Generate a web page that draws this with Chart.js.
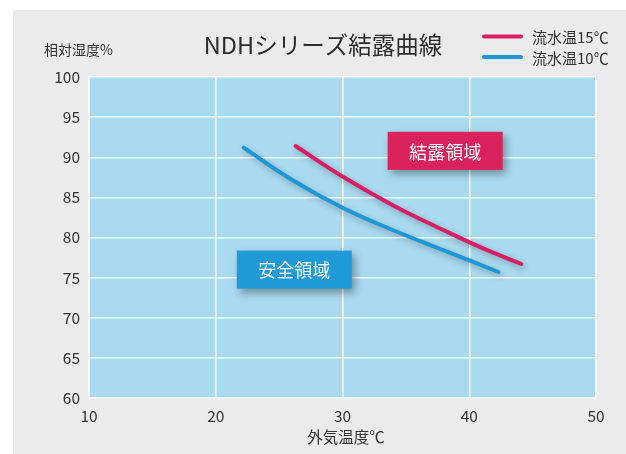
<!DOCTYPE html>
<html>
<head>
<meta charset="utf-8">
<script src="https://cdn.jsdelivr.net/npm/chart.js@4/dist/chart.umd.min.js"></script>
<style>
  body { margin: 0; background: #ffffff; }
  #card { position: absolute; left: 13px; top: 10px; width: 613px; height: 444px; background: #ebebed; }
</style>
</head>
<body>
<div id="card"><canvas id="chart" width="613" height="444"></canvas></div>
<script>
// 結露曲線 data (outside temp ℃ -> relative humidity %)
const water15X = [26.3, 30, 34, 38, 41, 44.1];
const water15Y = [91.4, 87.6, 84.0, 80.9, 78.7, 76.7];
const water10X = [22.2, 26, 30, 34, 38, 42.3];
const water10Y = [91.2, 87.2, 83.7, 80.9, 78.4, 75.7];

const seriesNames = ['流水温15℃', '流水温10℃'];
const seriesColors = ['#d81f63', '#1f97d6'];

const xTicks = [10, 20, 30, 40, 50];
const yTicks = [60, 65, 70, 75, 80, 85, 90, 95, 100];

// zone labels placed in data units
const zoneNames = ['結露領域', '安全領域'];
const zoneX = [38.1, 26.2];
const zoneY = [90.8, 76.0];
const zoneColors = ['#d9225a', '#1f9ad6'];

const FONT = '"Noto Sans CJK JP", "Noto Sans", sans-serif';
const TEXT = '#333333';

const toPoints = (xs, ys) => xs.map((x, i) => ({ x: x, y: ys[i] }));

// plot background + shadows + texts
const decor = {
    id: 'decor',
    beforeDraw(chart) {
        const { ctx, chartArea: a } = chart;
        ctx.save();
        ctx.fillStyle = '#a9daf0';
        ctx.fillRect(a.left, a.top, a.right - a.left, a.bottom - a.top);
        ctx.restore();
    },
    beforeDatasetDraw(chart) {
        const ctx = chart.ctx;
        ctx.save();
        ctx.shadowColor = 'rgba(0,0,0,0.28)';
        ctx.shadowBlur = 6;
        ctx.shadowOffsetX = 2;
        ctx.shadowOffsetY = 3;
    },
    afterDatasetDraw(chart) {
        chart.ctx.restore();
    },
    afterDraw(chart) {
        const ctx = chart.ctx;
        const xs = chart.scales.x, ys = chart.scales.y;
        ctx.save();

        // zone boxes
        zoneNames.forEach((name, i) => {
            const cx = xs.getPixelForValue(zoneX[i]);
            const cy = ys.getPixelForValue(zoneY[i]);
            const w = 115, h = 38;
            ctx.save();
            ctx.shadowColor = 'rgba(0,0,0,0.35)';
            ctx.shadowBlur = 8;
            ctx.shadowOffsetX = 3;
            ctx.shadowOffsetY = 4;
            ctx.fillStyle = zoneColors[i];
            ctx.fillRect(cx - w / 2, cy - h / 2, w, h);
            ctx.restore();
            ctx.fillStyle = '#ffffff';
            ctx.font = '18px ' + FONT;
            ctx.textAlign = 'center';
            ctx.textBaseline = 'middle';
            ctx.fillText(name, cx, cy + 1);
        });

        // title
        ctx.fillStyle = '#2b2b2b';
        ctx.font = '23.5px ' + FONT;
        ctx.textAlign = 'center';
        ctx.textBaseline = 'middle';
        ctx.fillText('NDHシリーズ結露曲線', 310, 35);

        // y axis title
        ctx.fillStyle = TEXT;
        ctx.font = '14px ' + FONT;
        ctx.textAlign = 'left';
        ctx.fillText('相対湿度%', 31, 40);

        // x axis title
        ctx.font = '15.5px ' + FONT;
        ctx.textAlign = 'center';
        ctx.fillText('外気温度℃', 333, 427);

        // legend
        const rows = [26.5, 47];
        seriesNames.forEach((name, i) => {
            ctx.strokeStyle = seriesColors[i];
            ctx.lineWidth = 4;
            ctx.lineCap = 'round';
            ctx.beginPath();
            ctx.moveTo(471, rows[i]);
            ctx.lineTo(508, rows[i]);
            ctx.stroke();
            ctx.fillStyle = TEXT;
            ctx.font = '15px ' + FONT;
            ctx.textAlign = 'left';
            ctx.fillText(name, 519, rows[i] + 1);
        });
        ctx.restore();
    }
};

new Chart(document.getElementById('chart'), {
    type: 'line',
    data: {
        datasets: [
            { label: seriesNames[0], data: toPoints(water15X, water15Y), borderColor: seriesColors[0] },
            { label: seriesNames[1], data: toPoints(water10X, water10Y), borderColor: seriesColors[1] }
        ]
    },
    options: {
        responsive: false,
        animation: false,
        layout: { padding: { top: 67, right: 30, left: 0, bottom: 0 } },
        elements: {
            line: { borderWidth: 4, tension: 0.4, borderCapStyle: 'round', fill: false },
            point: { radius: 0 }
        },
        plugins: { legend: { display: false }, tooltip: { enabled: false } },
        scales: {
            x: {
                type: 'linear',
                min: 10, max: 50,
                afterBuildTicks: s => { s.ticks = xTicks.map(v => ({ value: v })); },
                afterFit: s => { s.height = 56; },
                grid: { color: '#ffffff', lineWidth: 1.5, drawTicks: false },
                border: { color: '#ffffff', width: 1.5 },
                ticks: { color: TEXT, font: { family: FONT, size: 15.5 }, padding: 9 }
            },
            y: {
                min: 60, max: 100,
                afterBuildTicks: s => { s.ticks = yTicks.map(v => ({ value: v })); },
                afterFit: s => { s.width = 76; },
                grid: { color: '#ffffff', lineWidth: 1.5, drawTicks: false },
                border: { color: '#ffffff', width: 1.5 },
                ticks: { color: TEXT, font: { family: FONT, size: 15.5 }, padding: 9 }
            }
        }
    },
    plugins: [decor]
});
</script>
</body>
</html>
